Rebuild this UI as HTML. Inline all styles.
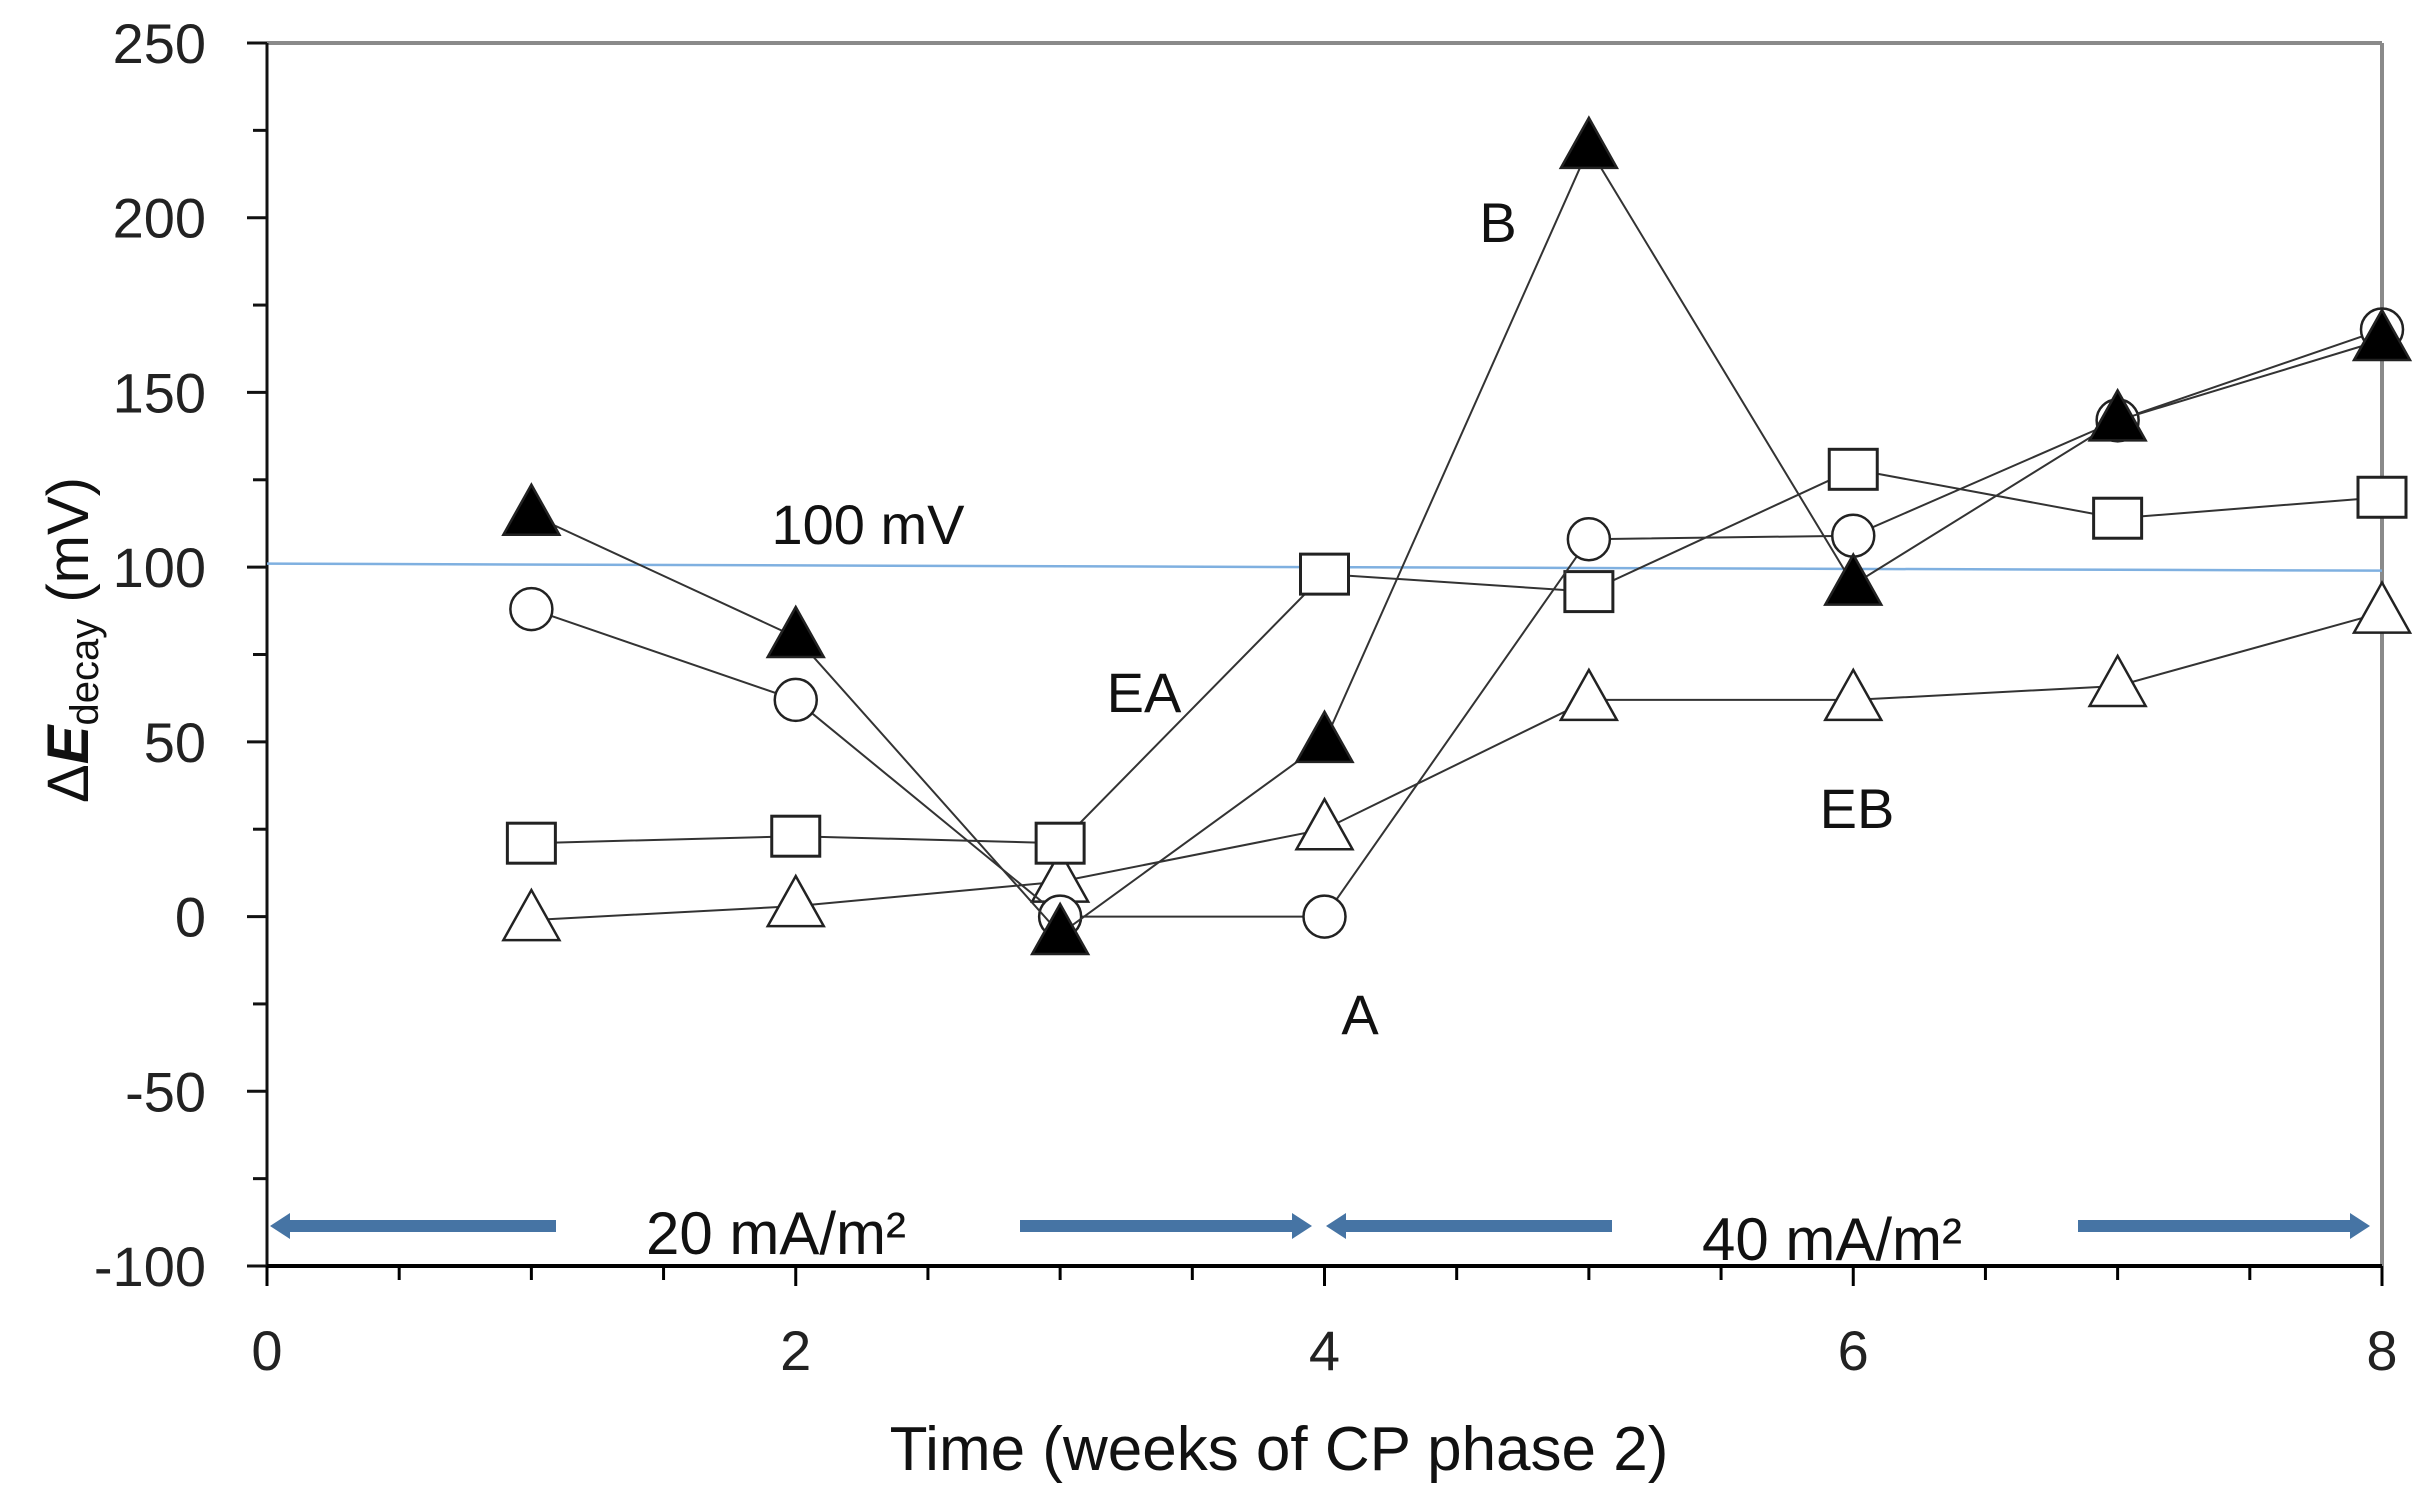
<!DOCTYPE html>
<html><head><meta charset="utf-8"><style>
html,body{margin:0;padding:0;background:#fff}
svg{display:block;font-family:"Liberation Sans",sans-serif}
</style></head><body>
<svg id="chart" width="2431" height="1506" viewBox="0 0 2431 1506">
</svg>
<script>
const weeks=[1,2,3,4,5,6,7,8];
const seriesB=[115,80,-5,50,220,95,142,165];
const seriesA=[88,62,0,0,108,109,142,168];
const seriesEA=[21,23,21,98,93,128,114,120];
const seriesEB=[-1,3,10,25,62,62,66,87];
const yTicks=[250,200,150,100,50,0,-50,-100];
const xTicks=[0,2,4,6,8];
const X0=267,X1=2382,Y0=43,Y1=1266;
const xs=v=>X0+(v-0)/(8-0)*(X1-X0);
const ys=v=>Y1-(v+100)/350*(Y1-Y0);
const svg=document.getElementById('chart');
const NS='http://www.w3.org/2000/svg';
function mk(t,a,p){const e=document.createElementNS(NS,t);for(const k in a)e.setAttribute(k,a[k]);(p||svg).appendChild(e);return e;}
let e=mk('line',{x1:X0,y1:Y0,x2:X1,y2:Y0,stroke:'#8a8a8a','stroke-width':4});

e=mk('line',{x1:X1,y1:Y0,x2:X1,y2:Y1,stroke:'#8a8a8a','stroke-width':4});

e=mk('line',{x1:X0,y1:Y0,x2:X0,y2:Y1,stroke:'#111','stroke-width':3});

e=mk('line',{x1:X0,y1:Y1,x2:X1,y2:Y1,stroke:'#000','stroke-width':4});

for(let v=-100;v<=250;v+=25){const maj=v%50===0;mk('line',{x1:X0-(maj?20:14),y1:ys(v),x2:X0,y2:ys(v),stroke:'#111','stroke-width':3});}
for(let v=0;v<=8;v+=0.5){const maj=v%2===0;mk('line',{x1:xs(v),y1:Y1,x2:xs(v),y2:Y1+(maj?20:14),stroke:'#000','stroke-width':3});}
yTicks.forEach(v=>{const t=mk('text',{x:206,y:ys(v)+20,'text-anchor':'end','font-size':56,fill:'#222'});t.textContent=v;
});
xTicks.forEach(v=>{const t=mk('text',{x:xs(v),y:1370,'text-anchor':'middle','font-size':56,fill:'#222'});t.textContent=v;
});
let t=mk('text',{x:1279,y:1470,'text-anchor':'middle','font-size':62,fill:'#111'});t.textContent='Time (weeks of CP phase 2)';

t=mk('text',{x:0,y:0,transform:'translate(88,640) rotate(-90)','text-anchor':'middle','font-size':58,fill:'#111'});
t.innerHTML='Δ<tspan font-weight="bold" font-style="italic">E</tspan><tspan font-size="40" dy="10">decay</tspan><tspan dy="-10"> (mV)</tspan>';

e=mk('line',{x1:X0,y1:ys(101),x2:X1,y2:ys(99),stroke:'#7fb0e0','stroke-width':2.5});

t=mk('text',{x:868,y:544,'text-anchor':'middle','font-size':56,fill:'#111'});t.textContent='100 mV';

function series(vals,kind,name){
 const g=mk('g',{});
 mk('polyline',{points:vals.map((v,i)=>xs(weeks[i])+','+ys(v)).join(' '),fill:'none',stroke:'#333','stroke-width':2},g);
 vals.forEach((v,i)=>{const x=xs(weeks[i]),y=ys(v);let m;
  if(kind==='circle')m=mk('circle',{cx:x,cy:y,r:21,fill:'#fff',stroke:'#222','stroke-width':2.5},g);
  else if(kind==='square')m=mk('rect',{x:x-24,y:y-20,width:48,height:40,fill:'#fff',stroke:'#222','stroke-width':3},g);
  else m=mk('polygon',{points:`${x},${y-30} ${x-28},${y+20} ${x+28},${y+20}`,fill:kind==='ftri'?'#000':'#fff',stroke:'#222','stroke-width':2.5},g);
  });
}
series(seriesEB,'otri','series-eb');
series(seriesEA,'square','series-ea');
series(seriesA,'circle','series-a');
series(seriesB,'ftri','series-b');
[['B',1498,242],['EA',1144,712],['A',1360,1034],['EB',1857,828]].forEach(([s,x,y])=>{const l=mk('text',{x:x,y:y,'text-anchor':'middle','font-size':56,fill:'#111'});l.textContent=s;
});
function arrow(from,to,name){const y=1226,dir=Math.sign(to-from),tip=to;
 const g=mk('g',{});
 mk('line',{x1:from,y1:y,x2:tip-dir*18,y2:y,stroke:'#4674a4','stroke-width':12},g);
 mk('polygon',{points:`${tip},${y} ${tip-dir*20},${y-13} ${tip-dir*20},${y+13}`,fill:'#4674a4'},g);}
arrow(556,270,'arrow-left-20');
arrow(1020,1312,'arrow-right-20');
arrow(1612,1326,'arrow-left-40');
arrow(2078,2370,'arrow-right-40');
t=mk('text',{x:776,y:1254,'text-anchor':'middle','font-size':60,fill:'#111'});t.textContent='20 mA/m²';

t=mk('text',{x:1832,y:1260,'text-anchor':'middle','font-size':60,fill:'#111'});t.textContent='40 mA/m²';

</script>
</body></html>
